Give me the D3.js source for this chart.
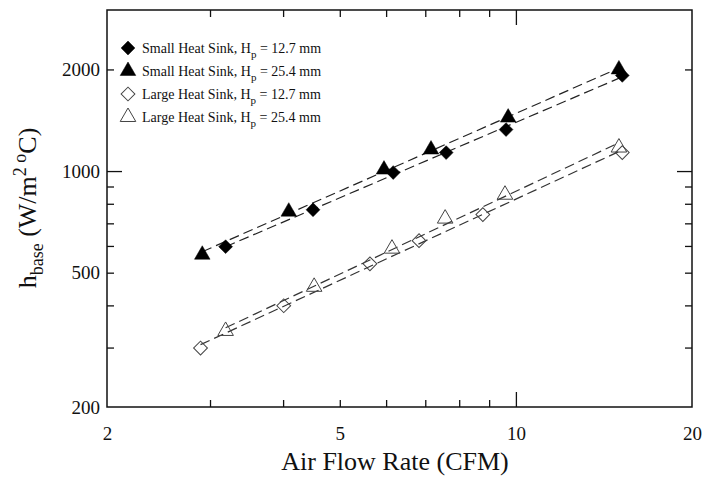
<!DOCTYPE html>
<html>
<head>
<meta charset="utf-8">
<script src="https://cdn.jsdelivr.net/npm/d3@7/dist/d3.min.js"></script>
<style>
  body { margin: 0; background: #fff; }
  svg { display: block; font-family: "Liberation Serif", "DejaVu Serif", serif; }
</style>
</head>
<body>
<div id="chart"></div>
<script>
// axis settings
var xDomain = [2, 20];
var yDomain = [200, 3000];
var xLabelValues = [2, 5, 10, 20];
var yLabelValues = [200, 500, 1000, 2000];

// legend text
var sinkNames = ["Small Heat Sink", "Small Heat Sink", "Large Heat Sink", "Large Heat Sink"];
var finHeights = ["12.7 mm", "25.4 mm", "12.7 mm", "25.4 mm"];

// values (CFM, W/m2 C)
var smallShortX = [3.19, 4.50, 6.17, 7.60, 9.62, 15.2];
var smallShortY = [597, 768, 990, 1134, 1327, 1920];
var smallTallX = [2.91, 4.09, 5.95, 7.16, 9.70, 15.0];
var smallTallY = [565, 758, 1010, 1158, 1440, 2000];
var largeShortX = [2.89, 4.01, 5.63, 6.83, 8.78, 15.2];
var largeShortY = [299, 399, 531, 622, 743, 1134];
var largeTallX = [3.19, 4.52, 6.14, 7.57, 9.58, 15.0];
var largeTallY = [336, 454, 589, 723, 851, 1174];

var W = 704, H = 481;
var plotLeft = 107, plotRight = 692, plotTop = 10, plotBottom = 407;

var svg = d3.select("#chart").append("svg")
    .attr("width", W)
    .attr("height", H);

var x = d3.scaleLog().domain(xDomain).range([plotLeft, plotRight]);
var y = d3.scaleLog().domain(yDomain).range([plotBottom, plotTop]);

function isDecade(v) { return Math.abs(Math.log10(v) - Math.round(Math.log10(v))) < 1e-9; }

var xTicks = x.ticks().filter(function (d) { return d > xDomain[0] && d < xDomain[1]; });
var yTicks = y.ticks().filter(function (d) { return d > yDomain[0] && d < yDomain[1]; });

function labelX(d) { return xLabelValues.indexOf(d) >= 0 ? d3.format("d")(d) : ""; }
function labelY(d) { return yLabelValues.indexOf(d) >= 0 ? d3.format("d")(d) : ""; }

// bottom axis
var gB = svg.append("g").attr("transform", "translate(0," + plotBottom + ")")
    .call(d3.axisBottom(x).tickValues(x.ticks()).tickSize(-7).tickPadding(20).tickFormat(labelX));
// left axis
var gL = svg.append("g").attr("transform", "translate(" + plotLeft + ",0)")
    .call(d3.axisLeft(y).tickValues(y.ticks().filter(function (d) { return d < yDomain[1]; }))
        .tickSize(-7).tickPadding(7).tickFormat(labelY));
// mirrored ticks
var gT = svg.append("g").attr("transform", "translate(0," + plotTop + ")")
    .call(d3.axisTop(x).tickValues(xTicks).tickSize(-7).tickFormat(""));
var gR = svg.append("g").attr("transform", "translate(" + plotRight + ",0)")
    .call(d3.axisRight(y).tickValues(yTicks).tickSize(-7).tickFormat(""));

[gB, gL, gT, gR].forEach(function (g) {
    g.select(".domain").remove();
    g.selectAll("line").attr("stroke", "#111").attr("stroke-width", 1.3);
    g.selectAll("text").attr("fill", "#111").style("font-size", "19px")
        .style("font-family", "'Liberation Serif', serif");
});
// longer ticks at decades
gB.selectAll(".tick line").filter(isDecade).attr("y2", -15);
gT.selectAll(".tick line").filter(isDecade).attr("y2", 15);
gL.selectAll(".tick line").filter(isDecade).attr("x2", 15);
gR.selectAll(".tick line").filter(isDecade).attr("x2", -15);
gB.selectAll(".tick").filter(function (d) { return d === xDomain[0] || d === xDomain[1]; })
    .select("line").remove();
gL.selectAll(".tick").filter(function (d) { return d === yDomain[0]; }).select("line").remove();

// frame
svg.append("rect")
    .attr("x", plotLeft).attr("y", plotTop)
    .attr("width", plotRight - plotLeft).attr("height", plotBottom - plotTop)
    .attr("fill", "none")
    .attr("stroke", "#111")
    .attr("stroke-width", 1.5);

// power-law fit (straight in log-log)
function fitLine(xs, ys) {
    var lx = xs.map(Math.log10), ly = ys.map(Math.log10);
    var mx = d3.mean(lx), my = d3.mean(ly);
    var sxy = d3.sum(lx, function (v, i) { return (v - mx) * (ly[i] - my); });
    var sxx = d3.sum(lx, function (v) { return (v - mx) * (v - mx); });
    var b = sxy / sxx, a = my - b * mx;
    var ends = d3.extent(xs);
    return ends.map(function (v) { return [v, Math.pow(10, a + b * Math.log10(v))]; });
}

var series = [
    { xs: smallShortX, ys: smallShortY, shape: "diamond", filled: true },
    { xs: smallTallX, ys: smallTallY, shape: "triangle", filled: true },
    { xs: largeShortX, ys: largeShortY, shape: "diamond", filled: false },
    { xs: largeTallX, ys: largeTallY, shape: "triangle", filled: false }
];

var line = d3.line()
    .x(function (d) { return x(d[0]); })
    .y(function (d) { return y(d[1]); });

series.forEach(function (s) {
    svg.append("path")
        .attr("d", line(fitLine(s.xs, s.ys)))
        .attr("fill", "none")
        .attr("stroke", s.filled ? "#222" : "#333")
        .attr("stroke-width", 1.2)
        .attr("stroke-dasharray", "10,5");
});

var diamondPath = d3.symbol().type(d3.symbolSquare).size(95)();
var trianglePath = d3.symbol().type(d3.symbolTriangle).size(105)();

function drawMarker(sel, s) {
    sel.append("path")
        .attr("d", s.shape === "diamond" ? diamondPath : trianglePath)
        .attr("transform", s.shape === "diamond" ? "rotate(45)" : null)
        .attr("fill", s.filled ? "#000" : "#fff")
        .attr("fill-opacity", s.filled ? 1 : 0)
        .attr("stroke", s.filled ? "#000" : "#444")
        .attr("stroke-width", s.filled ? 0.5 : 1);
}

series.forEach(function (s) {
    svg.append("g").selectAll("g")
        .data(d3.zip(s.xs, s.ys))
        .enter().append("g")
        .attr("transform", function (d) { return "translate(" + x(d[0]) + "," + y(d[1]) + ")"; })
        .each(function () { drawMarker(d3.select(this), s); });
});

// legend
var legend = svg.append("g").attr("transform", "translate(128,48)");
series.forEach(function (s, i) {
    var row = legend.append("g").attr("transform", "translate(0," + (i * 23) + ")");
    drawMarker(row, s);
    var t = row.append("text")
        .attr("x", 14).attr("y", 5)
        .style("font-size", "14px")
        .attr("fill", "#111");
    t.append("tspan").text(sinkNames[i] + ", H");
    t.append("tspan").attr("dy", 5).style("font-size", "11px").text("p");
    t.append("tspan").attr("dy", -5).text(" = " + finHeights[i]);
});

// axis titles
svg.append("text")
    .attr("x", 395).attr("y", 470)
    .attr("text-anchor", "middle")
    .style("font-size", "26px")
    .attr("fill", "#111")
    .text("Air Flow Rate (CFM)");

var yt = svg.append("text")
    .attr("transform", "translate(36,208) rotate(-90)")
    .attr("text-anchor", "middle")
    .style("font-size", "26px")
    .attr("fill", "#111");
yt.append("tspan").text("h");
yt.append("tspan").attr("dy", 7).style("font-size", "18px").text("base");
yt.append("tspan").attr("dy", -7).text(" (W/m");
yt.append("tspan").attr("dy", -10).style("font-size", "18px").text("2 o");
yt.append("tspan").attr("dy", 10).text("C)");
</script>
</body>
</html>
